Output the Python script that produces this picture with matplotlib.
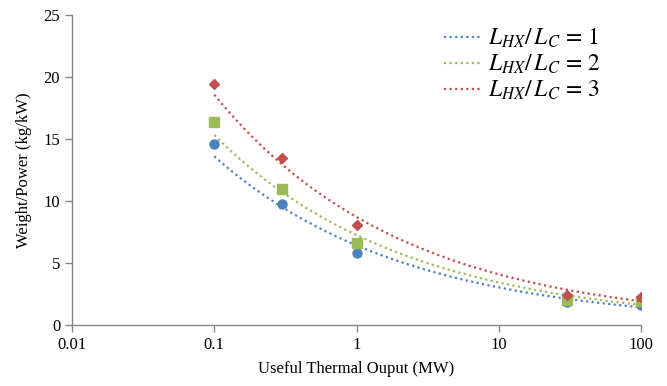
import matplotlib
matplotlib.use("Agg")
import matplotlib.pyplot as plt
from matplotlib.ticker import FixedLocator, FixedFormatter, NullLocator
import numpy as np

# useful thermal output (MW)
output_mw = [0.1, 0.3, 1, 30, 100]

# weight/power (kg/kW) for each L_HX/L_C ratio
ratio_1 = [14.6, 9.75, 5.8, 1.85, 1.65]
ratio_2 = [16.4, 10.95, 6.65, 2.05, 1.9]
ratio_3 = [19.4, 13.5, 8.1, 2.4, 2.25]

labels = [r"$L_{HX}/\,L_C\,=\,1$", r"$L_{HX}/\,L_C\,=\,2$", r"$L_{HX}/\,L_C\,=\,3$"]
colors = ["#4F81BD", "#9BBB59", "#C0504D"]
markers = ["o", "s", "D"]
msizes = [6.5, 7, 5.5]

tick_vals = [0.01, 0.1, 1, 10, 100]
tick_labels = ["0.01", "0.1", "1", "10", "100"]


def main():
    plt.rcParams["font.family"] = ["Liberation Serif", "DejaVu Serif"]
    plt.rcParams["mathtext.fontset"] = "stix"

    fig = plt.figure(figsize=(6.67, 3.86), dpi=100)
    ax = fig.add_axes([0.108, 0.158, 0.853, 0.803])

    x = np.array(output_mw, dtype=float)
    xfit = np.logspace(np.log10(x.min()), np.log10(x.max()), 200)

    for ys, lab, col, mk, ms in zip([ratio_1, ratio_2, ratio_3], labels, colors, markers, msizes):
        y = np.array(ys, dtype=float)
        # power trendline, like Excel
        b, lna = np.polyfit(np.log(x), np.log(y), 1)
        ax.plot(xfit, np.exp(lna) * xfit ** b, linestyle=(0, (1, 1.5)), color=col,
                linewidth=1.6, label=lab)
        ax.plot(x, y, linestyle="none", marker=mk, color=col, markersize=ms)

    ax.set_xscale("log")
    ax.set_xlim(0.01, 100)
    ax.set_ylim(0, 25)
    ax.xaxis.set_major_locator(FixedLocator(tick_vals))
    ax.xaxis.set_major_formatter(FixedFormatter(tick_labels))
    ax.xaxis.set_minor_locator(NullLocator())
    ax.set_yticks([0, 5, 10, 15, 20, 25])

    for side in ["top", "right"]:
        ax.spines[side].set_visible(False)
    for side in ["left", "bottom"]:
        ax.spines[side].set_color("#868686")
        ax.spines[side].set_linewidth(1.0)
    ax.tick_params(axis="both", direction="out", length=5, color="#868686",
                   labelsize=12, width=1.0)

    ax.set_xlabel("Useful Thermal Ouput (MW)", fontsize=12, labelpad=6)
    ax.set_ylabel("Weight/Power (kg/kW)", fontsize=12, labelpad=8)

    ax.legend(loc="upper right", frameon=False, fontsize=17, handlelength=1.6,
              handletextpad=0.25, labelspacing=0.12, borderaxespad=0.1,
              bbox_to_anchor=(0.95, 1.0))

    fig.savefig("out.png", dpi=100)
    plt.close(fig)


if __name__ == "__main__":
    main()
